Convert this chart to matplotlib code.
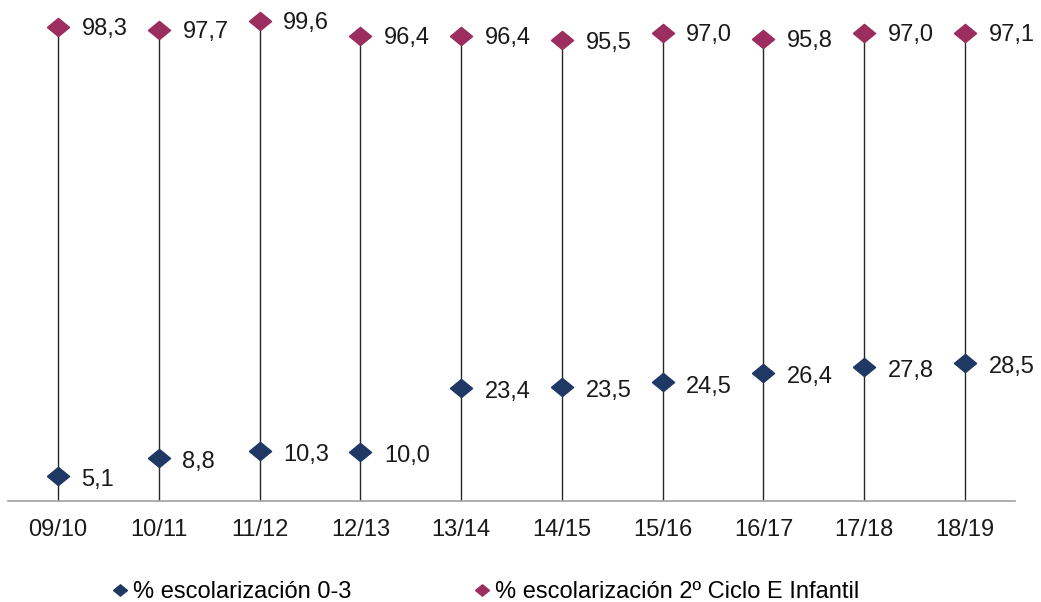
import numpy as np
import matplotlib.pyplot as plt
from matplotlib.lines import Line2D

plt.rcParams['font.family'] = ['Liberation Sans', 'DejaVu Sans']

cursos = ["09/10", "10/11", "11/12", "12/13", "13/14", "14/15", "15/16", "16/17", "17/18", "18/19"]
esc_0_3 = [5.1, 8.8, 10.3, 10.0, 23.4, 23.5, 24.5, 26.4, 27.8, 28.5]
esc_2ciclo = [98.3, 97.7, 99.6, 96.4, 96.4, 95.5, 97.0, 95.8, 97.0, 97.1]
nombres = ["% escolarización 0-3", "% escolarización 2º Ciclo E Infantil"]

navy = "#1f3864"
maroon = "#9b2d5f"
diamond = [(-1, 0), (0, 0.82), (1, 0), (0, -0.82), (-1, 0)]
fs = 17

fig = plt.figure(figsize=(10.41, 6.02), dpi=100)
ax = fig.add_axes([7.6 / 1041, 1 - 500.5 / 602, (1015.4 - 7.6) / 1041, (500.5 - 18.8) / 602])

x = np.arange(len(cursos))
ax.vlines(x, 0, esc_2ciclo, color="#262626", lw=1.0, zorder=1)
ax.plot(x, esc_0_3, ls="none", marker=diamond, ms=16, color=navy, clip_on=False, zorder=3)
ax.plot(x, esc_2ciclo, ls="none", marker=diamond, ms=16, color=maroon, clip_on=False, zorder=3)

# etiquetas de datos
for xi, v in zip(x, esc_0_3):
    ax.annotate(f"{v:.1f}".replace(".", ","), (xi, v), xytext=(17, -3), textcoords="offset points",
                ha="left", va="center", fontsize=fs, color="#1a1a1a")
for xi, v in zip(x, esc_2ciclo):
    ax.annotate(f"{v:.1f}".replace(".", ","), (xi, v), xytext=(17, -1.5), textcoords="offset points",
                ha="left", va="center", fontsize=fs, color="#1a1a1a")

ax.set_xlim(-0.5, len(cursos) - 0.5)
ax.set_ylim(0, 100)
ax.set_xticks(x)
ax.set_xticklabels(cursos, fontsize=fs, color="#1a1a1a")
ax.tick_params(axis="x", length=0, pad=13)
ax.set_yticks([])
for s in ["left", "right", "top"]:
    ax.spines[s].set_visible(False)
ax.spines["bottom"].set_color("#a0a0a0")
ax.spines["bottom"].set_linewidth(1.2)

# leyenda: dos entradas colocadas por separado
for nombre, col, x0 in [(nombres[0], navy, 113), (nombres[1], maroon, 475)]:
    h = Line2D([], [], ls="none", marker=diamond, ms=10, color=col)
    fig.legend([h], [nombre], loc="center left", bbox_to_anchor=(x0 / 1041, 1 - 592 / 602),
               frameon=False, fontsize=fs, handlelength=0.6, handletextpad=0.25,
               borderaxespad=0, borderpad=0)

fig.savefig("out.png", dpi=100)
